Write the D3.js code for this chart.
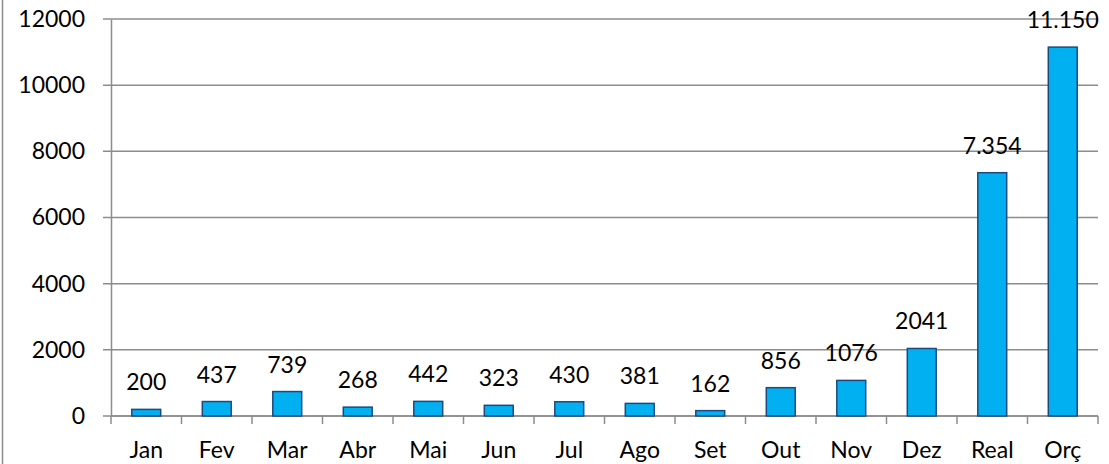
<!DOCTYPE html>
<html>
<head>
<meta charset="utf-8">
<script src="https://cdn.jsdelivr.net/npm/d3@7"></script>
<style>
  body { margin: 0; background: #fff; }
  svg text { font-family: Lato, "Open Sans", sans-serif; fill: #000; }
</style>
</head>
<body>
<svg width="1109" height="464"></svg>
<script>
let categories = ["Jan", "Fev", "Mar", "Abr", "Mai", "Jun", "Jul", "Ago", "Set", "Out", "Nov", "Dez", "Real", "Orç"];
let values = [200, 437, 739, 268, 442, 323, 430, 381, 162, 856, 1076, 2041, 7354, 11150];
let valueLabels = ["200", "437", "739", "268", "442", "323", "430", "381", "162", "856", "1076", "2041", "7.354", "11.150"];
let yTicks = [0, 2000, 4000, 6000, 8000, 10000, 12000];

let data = categories.map((c, i) => ({ cat: c, value: values[i], label: valueLabels[i] }));

let svg = d3.select("svg");
let w = 1109, h = 464;
let plotLeft = 111, plotRight = 1098, plotTop = 19, plotBottom = 416;
let fontSize = "23px";

// outer border (only left edge shows)
svg.append("line")
  .attr("x1", 2.5).attr("x2", 2.5)
  .attr("y1", 0).attr("y2", h)
  .attr("stroke", "#8c8c8c")
  .attr("stroke-width", 1.5);

let xScale = d3.scaleBand()
  .domain(categories)
  .range([plotLeft, plotRight])
  .paddingInner(0)
  .paddingOuter(0);

let yScale = d3.scaleLinear()
  .domain([0, 12000])
  .range([plotBottom, plotTop]);

// gridlines
svg.append("g")
  .selectAll("line")
  .data(yTicks)
  .enter()
  .append("line")
  .attr("x1", plotLeft - 8)
  .attr("x2", plotRight)
  .attr("y1", d => yScale(d))
  .attr("y2", d => yScale(d))
  .attr("stroke", "#8c8c8c")
  .attr("stroke-width", 1.5);

// y axis
let yAxis = d3.axisLeft(yScale)
  .tickValues(yTicks)
  .tickSize(0)
  .tickPadding(26)
  .tickFormat(d => d);
let yg = svg.append("g")
  .attr("transform", `translate(${plotLeft},0)`)
  .call(yAxis);
yg.select(".domain").attr("stroke", "#8c8c8c").attr("stroke-width", 1.5);
yg.selectAll("text").style("font-size", fontSize).attr("fill", "#000");

// x axis: ticks on category boundaries
let xg = svg.append("g");
xg.append("line")
  .attr("x1", plotLeft).attr("x2", plotRight)
  .attr("y1", plotBottom).attr("y2", plotBottom)
  .attr("stroke", "#8c8c8c").attr("stroke-width", 1.5);
let bounds = categories.map(c => xScale(c)).concat([xScale(categories[categories.length - 1]) + xScale.bandwidth()]);
xg.selectAll(".tk")
  .data(bounds)
  .enter()
  .append("line")
  .attr("class", "tk")
  .attr("x1", d => d).attr("x2", d => d)
  .attr("y1", plotBottom).attr("y2", plotBottom + 8)
  .attr("stroke", "#8c8c8c").attr("stroke-width", 1.5);
xg.selectAll(".cat")
  .data(categories)
  .enter()
  .append("text")
  .attr("class", "cat")
  .attr("x", d => xScale(d) + xScale.bandwidth() / 2)
  .attr("y", 458)
  .attr("text-anchor", "middle")
  .style("font-size", fontSize)
  .text(d => d);

// bars
let barW = xScale.bandwidth() * 0.41;
svg.append("g")
  .selectAll("rect")
  .data(data)
  .enter()
  .append("rect")
  .attr("x", d => xScale(d.cat) + (xScale.bandwidth() - barW) / 2)
  .attr("y", d => yScale(d.value))
  .attr("width", barW)
  .attr("height", d => plotBottom - yScale(d.value))
  .attr("fill", "#00b0f0")
  .attr("stroke", "#1f497d")
  .attr("stroke-width", 1.5);

// value labels
svg.append("g")
  .selectAll("text")
  .data(data)
  .enter()
  .append("text")
  .attr("x", d => xScale(d.cat) + xScale.bandwidth() / 2)
  .attr("y", d => yScale(d.value) - 19)
  .attr("text-anchor", "middle")
  .style("font-size", fontSize)
  .text(d => d.label);
</script>
</body>
</html>
